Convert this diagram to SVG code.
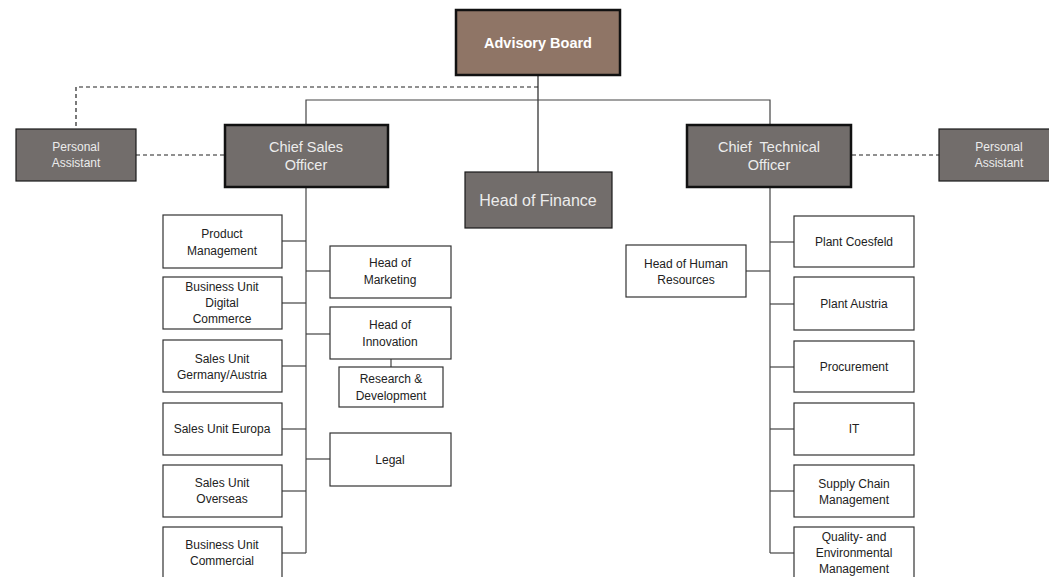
<svg xmlns="http://www.w3.org/2000/svg" width="1049" height="577" viewBox="0 0 1049 577">
<style>
text{font-family:"Liberation Sans",Arial,sans-serif;text-anchor:middle}
.w rect{fill:#fff;stroke:#333;stroke-width:1.2}
.w text{font-size:12px;fill:#222}
.d rect{fill:#726d6b;stroke:#1a1a1a;stroke-width:1.2}
.d text{font-size:12px;fill:#ececec}
.t rect{fill:#726d6b;stroke:#111;stroke-width:2.5}
.t text{font-size:14.5px;fill:#ececec}
.ab rect{fill:#8f7566;stroke:#111;stroke-width:2.5}
.ab text{font-size:14.5px;fill:#fff;font-weight:600}
.c line,.c path{stroke:#444;stroke-width:1.2;fill:none}
.c .dash{stroke:#222;stroke-dasharray:4 3}
</style>
<rect width="1049" height="577" fill="#fff"/>
<g id="connectors" class="c">
<line x1="538" y1="75" x2="538" y2="172" style="stroke:#222"/>
<path class="dash" d="M538 87H76V129"/>
<path d="M306 125V100H770V125"/>
<line class="dash" x1="136" y1="155" x2="225" y2="155"/>
<line class="dash" x1="852" y1="155" x2="939" y2="155"/>
<line x1="306" y1="187" x2="306" y2="553"/>
<line x1="282" y1="241" x2="306" y2="241"/>
<line x1="282" y1="303" x2="306" y2="303"/>
<line x1="282" y1="366" x2="306" y2="366"/>
<line x1="282" y1="429" x2="306" y2="429"/>
<line x1="282" y1="491" x2="306" y2="491"/>
<line x1="282" y1="553" x2="306" y2="553"/>
<line x1="306" y1="271" x2="330" y2="271"/>
<line x1="306" y1="334" x2="330" y2="334"/>
<line x1="306" y1="459" x2="330" y2="459"/>
<line x1="391" y1="359" x2="391" y2="367"/>
<line x1="770" y1="187" x2="770" y2="553"/>
<line x1="746" y1="271" x2="770" y2="271"/>
<line x1="770" y1="242" x2="794" y2="242"/>
<line x1="770" y1="304" x2="794" y2="304"/>
<line x1="770" y1="367" x2="794" y2="367"/>
<line x1="770" y1="429" x2="794" y2="429"/>
<line x1="770" y1="491" x2="794" y2="491"/>
<line x1="770" y1="553" x2="794" y2="553"/>
</g>
<g id="advisory-board" class="ab"><rect x="456" y="10" width="164" height="65"/><text x="538" y="48">Advisory Board</text></g>
<g id="pa-left" class="d"><rect x="16" y="129" width="120" height="52"/><text x="76" y="151">Personal</text><text x="76" y="167">Assistant</text></g>
<g id="cso" class="t"><rect x="225" y="125" width="163" height="62"/><text x="306" y="152">Chief Sales</text><text x="306" y="170">Officer</text></g>
<g id="finance" class="d"><rect x="465" y="172" width="147" height="56"/><text x="538" y="206" style="font-size:16px">Head of Finance</text></g>
<g id="cto" class="t"><rect x="687" y="125" width="164" height="62"/><text x="769" y="152" xml:space="preserve">Chief  Technical</text><text x="769" y="170">Officer</text></g>
<g id="pa-right" class="d"><rect x="939" y="129" width="120" height="52"/><text x="999" y="151">Personal</text><text x="999" y="167">Assistant</text></g>
<g id="product-management" class="w"><rect x="163" y="215" width="119" height="53"/><text x="222" y="238">Product</text><text x="222" y="255">Management</text></g>
<g id="bu-digital" class="w"><rect x="163" y="277" width="119" height="52"/><text x="222" y="291">Business Unit</text><text x="222" y="307">Digital</text><text x="222" y="323">Commerce</text></g>
<g id="su-germany" class="w"><rect x="163" y="340" width="119" height="52"/><text x="222" y="363">Sales Unit</text><text x="222" y="379">Germany/Austria</text></g>
<g id="su-europa" class="w"><rect x="163" y="403" width="119" height="52"/><text x="222" y="433">Sales Unit Europa</text></g>
<g id="su-overseas" class="w"><rect x="163" y="465" width="119" height="52"/><text x="222" y="487">Sales Unit</text><text x="222" y="503">Overseas</text></g>
<g id="bu-commercial" class="w"><rect x="163" y="527" width="119" height="60"/><text x="222" y="549">Business Unit</text><text x="222" y="565">Commercial</text></g>
<g id="marketing" class="w"><rect x="330" y="246" width="121" height="52"/><text x="390" y="267">Head of</text><text x="390" y="284">Marketing</text></g>
<g id="innovation" class="w"><rect x="330" y="307" width="121" height="52"/><text x="390" y="329">Head of</text><text x="390" y="346">Innovation</text></g>
<g id="rnd" class="w"><rect x="339" y="367" width="104" height="40"/><text x="391" y="383">Research &amp;</text><text x="391" y="400">Development</text></g>
<g id="legal" class="w"><rect x="330" y="433" width="121" height="53"/><text x="390" y="464">Legal</text></g>
<g id="hr" class="w"><rect x="626" y="245" width="120" height="52"/><text x="686" y="268">Head of Human</text><text x="686" y="284">Resources</text></g>
<g id="plant-coesfeld" class="w"><rect x="794" y="216" width="120" height="51"/><text x="854" y="246">Plant Coesfeld</text></g>
<g id="plant-austria" class="w"><rect x="794" y="277" width="120" height="53"/><text x="854" y="308">Plant Austria</text></g>
<g id="procurement" class="w"><rect x="794" y="341" width="120" height="51"/><text x="854" y="371">Procurement</text></g>
<g id="it" class="w"><rect x="794" y="403" width="120" height="52"/><text x="854" y="433">IT</text></g>
<g id="scm" class="w"><rect x="794" y="465" width="120" height="52"/><text x="854" y="488">Supply Chain</text><text x="854" y="504">Management</text></g>
<g id="qem" class="w"><rect x="794" y="527" width="120" height="60"/><text x="854" y="541">Quality- and</text><text x="854" y="557">Environmental</text><text x="854" y="573">Management</text></g>
</svg>
